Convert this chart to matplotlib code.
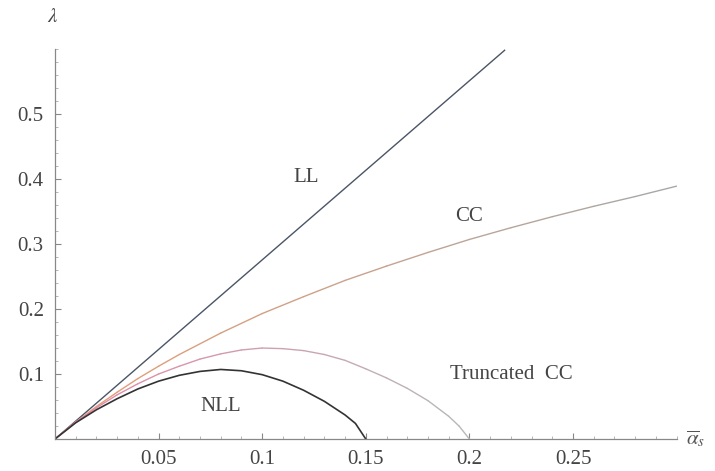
import numpy as np
import matplotlib.pyplot as plt
from matplotlib.collections import LineCollection
from matplotlib.colors import to_rgb
from matplotlib.ticker import MultipleLocator

plt.rcParams['font.family'] = ['Liberation Serif', 'DejaVu Serif']
plt.rcParams['mathtext.fontset'] = 'stix'

# values
ll_x = [0.0, 0.217]
ll_y = [0.0, 0.598]

cc_x = [0.0, 0.01, 0.02, 0.03, 0.04, 0.05, 0.06, 0.08, 0.10, 0.12, 0.14, 0.16, 0.18,
        0.20, 0.22, 0.24, 0.26, 0.28, 0.30]
cc_y = [0.0, 0.026, 0.050, 0.072, 0.093, 0.112, 0.130, 0.163, 0.193, 0.219, 0.244,
        0.266, 0.287, 0.307, 0.325, 0.342, 0.358, 0.373, 0.389]

tcc_x = [0.0, 0.01, 0.02, 0.03, 0.04, 0.05, 0.06, 0.07, 0.08, 0.09, 0.10, 0.11, 0.12,
         0.13, 0.14, 0.15, 0.16, 0.17, 0.18, 0.19, 0.195, 0.20]
tcc_y = [0.0, 0.026, 0.048, 0.068, 0.085, 0.100, 0.112, 0.123, 0.131, 0.137, 0.140,
         0.139, 0.136, 0.130, 0.121, 0.108, 0.094, 0.078, 0.059, 0.035, 0.020, 0.0]

nll_x = [0.0, 0.01, 0.02, 0.03, 0.04, 0.05, 0.06, 0.07, 0.08, 0.09, 0.10, 0.11, 0.12,
         0.13, 0.14, 0.145, 0.15]
nll_y = [0.0, 0.025, 0.045, 0.062, 0.077, 0.089, 0.098, 0.104, 0.107, 0.105, 0.099,
         0.089, 0.075, 0.058, 0.037, 0.024, 0.0]

labels = ['LL', 'CC', 'Truncated  CC', 'NLL']
label_pos = [(0.121, 0.402), (0.200, 0.342), (0.220, 0.100), (0.080, 0.050)]


def fade_line(ax, x, y, c0, c1, lw=1.0):
    pts = np.column_stack([x, y]).reshape(-1, 1, 2)
    segs = np.concatenate([pts[:-1], pts[1:]], axis=1)
    a, b = np.array(to_rgb(c0)), np.array(to_rgb(c1))
    t = np.array(x[1:]) / max(x)
    cols = [a + (b - a) * tt for tt in t]
    ax.add_collection(LineCollection(segs, colors=cols, linewidths=lw,
                                     capstyle='round', joinstyle='round'))


fig = plt.figure(figsize=(7.15, 4.71), dpi=100)
ax = fig.add_axes([0.0769, 0.0679, 0.8694, 0.8281])

ax.plot(ll_x, ll_y, color='#4a5566', lw=1.0)
fade_line(ax, cc_x, cc_y, '#eb9c70', '#a8a8a8')
fade_line(ax, tcc_x, tcc_y, '#e884a8', '#b8b8b8')
ax.plot(nll_x, nll_y, color='#333333', lw=1.2, solid_joinstyle='round')

for txt, (lx, ly) in zip(labels, label_pos):
    ax.text(lx, ly, txt, fontsize=15, color='#444444', ha='center', va='center')

ax.set_xlim(0, 0.3)
ax.set_ylim(0, 0.6)
for s in ['top', 'right']:
    ax.spines[s].set_visible(False)
for s in ['left', 'bottom']:
    ax.spines[s].set_color('#888888')
    ax.spines[s].set_linewidth(0.9)

ax.set_xticks([0.05, 0.1, 0.15, 0.2, 0.25])
ax.set_xticklabels(['0.05', '0.1', '0.15', '0.2', '0.25'])
ax.set_yticks([0.1, 0.2, 0.3, 0.4, 0.5])
ax.set_yticklabels(['0.1', '0.2', '0.3', '0.4', '0.5'])
ax.xaxis.set_minor_locator(MultipleLocator(0.01))
ax.yaxis.set_minor_locator(MultipleLocator(0.02))
ax.tick_params(which='major', direction='in', length=4, color='#888888',
               labelsize=15, labelcolor='#444444', pad=8)
ax.tick_params(which='minor', direction='in', length=2, color='#aaaaaa')

fig.text(53 / 715, 1 - 18 / 471, r'$\lambda$', fontsize=15, color='#444444',
         ha='center', va='center')
fig.text(686 / 715, 1 - 439 / 471, r'$\overline{\alpha}_s$', fontsize=15,
         color='#555555', ha='left', va='center')

fig.savefig('out.png', dpi=100)
